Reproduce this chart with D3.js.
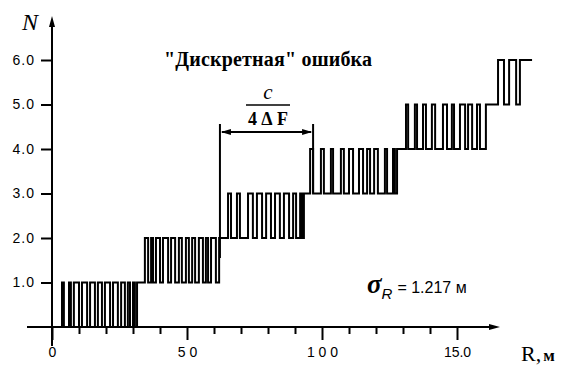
<!DOCTYPE html>
<html>
<head>
<meta charset="utf-8">
<script src="https://cdn.jsdelivr.net/npm/d3@7"></script>
<style>
  body { margin: 0; background: #fff; }
  text { fill: #000; }
</style>
</head>
<body>
<div id="chart"></div>
<script>
// R positions (m) where the counted N toggles; each run starts at level-1, ends at level
const toggles01 = [3.7, 4.4, 6.3, 7.0, 8.1, 10.0, 11.1, 13.0, 14.1, 15.9, 17.0, 18.5, 19.6, 21.5, 22.6, 24.4, 25.6, 27.0, 28.1, 28.9, 30.0, 30.7, 31.5];
const toggles12 = [34.4, 35.6, 36.7, 37.4, 38.5, 40.0, 41.1, 43.0, 44.1, 45.6, 47.0, 48.1, 49.6, 50.7, 51.9, 53.0, 54.4, 55.9, 57.0, 57.8, 58.9, 60.7, 61.9];
const toggles23 = [65.2, 66.3, 68.5, 69.6, 72.6, 74.4, 75.9, 77.8, 79.3, 81.1, 82.6, 84.4, 85.9, 87.8, 89.3, 90.4, 91.9, 92.6, 93.3];
const toggles34 = [95.6, 96.7, 99.6, 100.7, 103.3, 104.1, 107.0, 108.1, 110.0, 111.5, 113.7, 115.2, 116.7, 117.8, 119.3, 120.7, 123.3, 124.1, 126.3, 127.0, 127.8];
const toggles45 = [131.1, 131.9, 134.4, 135.2, 137.4, 138.5, 140.7, 141.9, 144.8, 146.3, 148.1, 148.9, 151.1, 153.0, 154.1, 155.6, 157.4, 158.5, 160.7];
const toggles56 = [165.2, 167.4, 169.3, 171.9, 173.3];
const rEnd = 177.8;

const yTicks = [1, 2, 3, 4, 5, 6];
const xMinor = [10, 20, 30, 40, 60, 70, 80, 90, 110, 120, 130, 140];
const xMajor = [0, 50, 100, 150];
const xLabels = ["0", "5 0", "1 0 0", "15.0"];
const bracketR = [62.2, 96.7];

const width = 567, height = 371;

const svg = d3.select("#chart").append("svg")
  .attr("width", width)
  .attr("height", height)
  .style("font-family", "'Liberation Sans', Arial, sans-serif");

const x = d3.scaleLinear().domain([0, 150]).range([52, 457]);
const y = d3.scaleLinear().domain([0, 6]).range([327, 60]);

// build the stepped signal
const pts = [[0, 0]];
[toggles01, toggles12, toggles23, toggles34, toggles45, toggles56].forEach((tg, k) => {
  tg.forEach((r, i) => pts.push([r, i % 2 === 0 ? k + 1 : k]));
});
pts.push([rEnd, 6]);

// x axis line + arrow
svg.append("line")
  .attr("x1", 27).attr("x2", 494)
  .attr("y1", y(0)).attr("y2", y(0))
  .attr("stroke", "#000").attr("stroke-width", 2);
svg.append("path")
  .attr("d", `M${500},${y(0)} L${489},${y(0) - 3} L${489},${y(0) + 3} Z`)
  .attr("fill", "#000");

// y axis line + arrow
svg.append("line")
  .attr("x1", x(0)).attr("x2", x(0))
  .attr("y1", 346).attr("y2", 24)
  .attr("stroke", "#000").attr("stroke-width", 2);
svg.append("path")
  .attr("d", `M${x(0)},${16} L${x(0) - 3},${27} L${x(0) + 3},${27} Z`)
  .attr("fill", "#000");

// minor ticks
const gMinor = svg.append("g")
  .attr("transform", `translate(0,${y(0)})`)
  .call(d3.axisBottom(x).tickValues(xMinor).tickSize(7).tickFormat(""));
gMinor.select(".domain").remove();

// major ticks with labels
const gMajor = svg.append("g")
  .attr("transform", `translate(0,${y(0)})`)
  .call(d3.axisBottom(x).tickValues(xMajor).tickSize(13).tickPadding(7)
    .tickFormat((d, i) => xLabels[i]));
gMajor.select(".domain").remove();
gMajor.selectAll(".tick text").style("font-size", "14px");

svg.selectAll(".tick line").attr("stroke", "#000").attr("stroke-width", 2);

// y axis ticks
const gy = svg.append("g")
  .attr("transform", `translate(${x(0)},0)`)
  .call(d3.axisLeft(y).tickValues(yTicks).tickSize(11).tickPadding(6).tickFormat(d3.format(".1f")));
gy.select(".domain").remove();
gy.selectAll(".tick line").attr("stroke", "#000").attr("stroke-width", 2);
gy.selectAll(".tick text").style("font-size", "14px").attr("letter-spacing", "1px");

// signal
const line = d3.line()
  .x(d => x(d[0]))
  .y(d => y(d[1]))
  .curve(d3.curveStepAfter);

svg.append("path")
  .datum(pts)
  .attr("d", line)
  .attr("fill", "none")
  .attr("stroke", "#000")
  .attr("stroke-width", 2);

// axis titles
svg.append("text")
  .attr("x", 22).attr("y", 30)
  .style("font-family", "'Liberation Serif', serif")
  .style("font-style", "italic")
  .style("font-size", "24px")
  .text("N");

svg.append("text")
  .attr("x", 521).attr("y", 361)
  .style("font-family", "'Liberation Serif', serif")
  .style("font-size", "22px")
  .text("R,")
  .append("tspan")
  .style("font-weight", "bold")
  .style("font-size", "17px")
  .attr("dx", 2)
  .text("м");

// title
svg.append("text")
  .attr("x", 164).attr("y", 66)
  .attr("textLength", 208)
  .attr("lengthAdjust", "spacing")
  .style("font-family", "'Liberation Serif', serif")
  .style("font-weight", "bold")
  .style("font-size", "20px")
  .text("\"Дискретная\" ошибка");

// c / 4ΔF bracket
const bx0 = x(bracketR[0]), bx1 = x(bracketR[1]);
const by = 132;
svg.append("text")
  .attr("x", 268).attr("y", 99)
  .attr("text-anchor", "middle")
  .style("font-family", "'Liberation Serif', serif")
  .style("font-style", "italic")
  .style("font-size", "21px")
  .text("c");
svg.append("line")
  .attr("x1", 246).attr("x2", 290).attr("y1", 105).attr("y2", 105)
  .attr("stroke", "#000").attr("stroke-width", 1.5);
svg.append("text")
  .attr("x", 248).attr("y", 125)
  .attr("textLength", 40)
  .attr("lengthAdjust", "spacing")
  .style("font-family", "'Liberation Serif', serif")
  .style("font-weight", "bold")
  .style("font-size", "18px")
  .text("4ΔF");

svg.append("line")
  .attr("x1", bx0).attr("x2", bx0).attr("y1", 124).attr("y2", 258)
  .attr("stroke", "#000").attr("stroke-width", 2);
svg.append("line")
  .attr("x1", bx1).attr("x2", bx1).attr("y1", 124).attr("y2", y(3))
  .attr("stroke", "#000").attr("stroke-width", 2);
svg.append("line")
  .attr("x1", bx0 + 2).attr("x2", bx1 - 2).attr("y1", by).attr("y2", by)
  .attr("stroke", "#000").attr("stroke-width", 2);
svg.append("path")
  .attr("d", `M${bx0 + 1},${by} L${bx0 + 11},${by - 3} L${bx0 + 11},${by + 3} Z
              M${bx1 - 1},${by} L${bx1 - 11},${by - 3} L${bx1 - 11},${by + 3} Z`)
  .attr("fill", "#000");

// sigma annotation
const sig = svg.append("text")
  .attr("x", 367).attr("y", 293);
sig.append("tspan")
  .style("font-family", "'Liberation Serif', serif")
  .style("font-style", "italic")
  .style("font-weight", "bold")
  .style("font-size", "27px")
  .text("σ");
sig.append("tspan")
  .attr("dy", 6)
  .style("font-family", "'Liberation Sans', sans-serif")
  .style("font-style", "italic")
  .style("font-size", "15px")
  .text("R");
sig.append("tspan")
  .attr("dy", -6)
  .attr("dx", 5)
  .style("font-size", "16px")
  .text("= 1.217 м");
</script>
</body>
</html>
